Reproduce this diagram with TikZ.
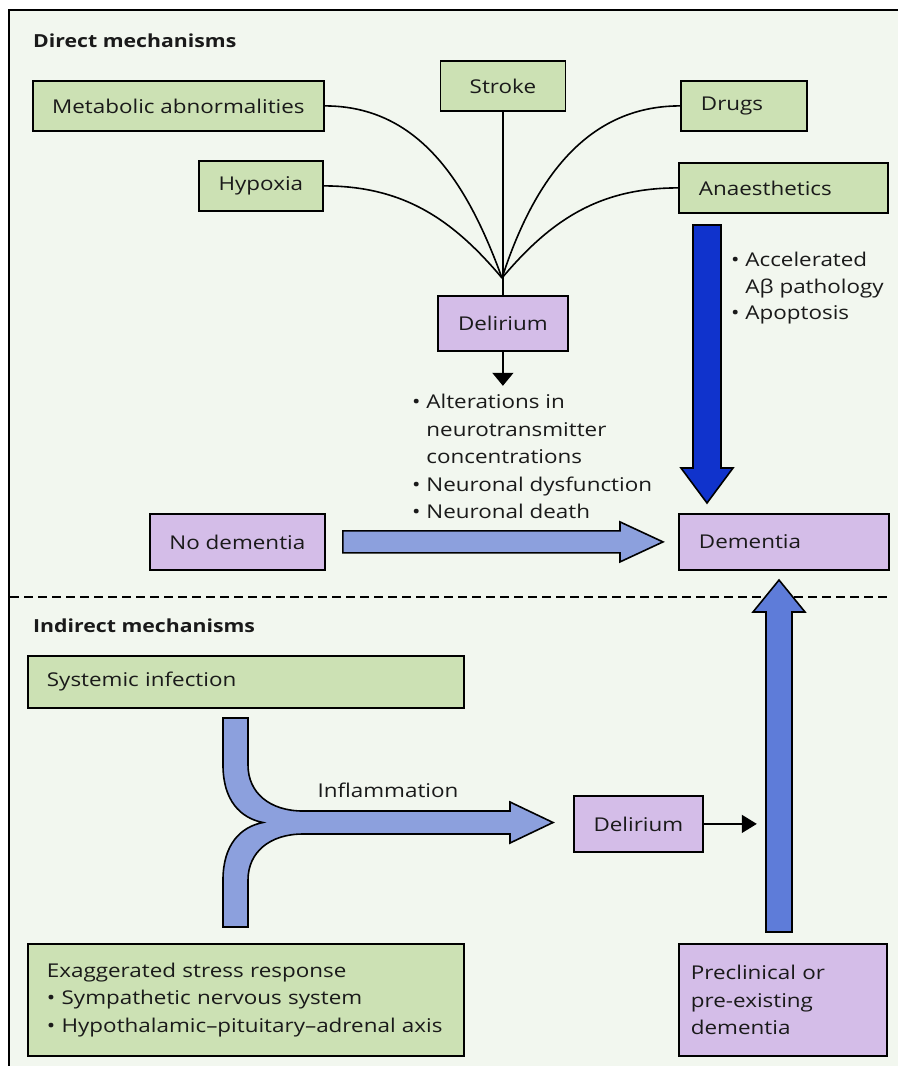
\documentclass[tikz,border=0pt]{standalone}
\usepackage{fontspec}
\setmainfont{Open Sans}[FakeStretch=1.18]
\usetikzlibrary{calc,arrows.meta}
\definecolor{bgc}{HTML}{F2F7EF}
\definecolor{gfill}{HTML}{CCE1B4}
\definecolor{pfill}{HTML}{D4BDE8}
\definecolor{lblue}{HTML}{8CA0DD}
\definecolor{mblue}{HTML}{5E7CD9}
\definecolor{dblue}{HTML}{1033CC}
\definecolor{txt}{HTML}{1A1A1A}
\newcommand\hblockarrow[6]{%
  \filldraw[fill=#6,draw=black,line width=1.6pt,line join=miter] let \p1=(#1),\p2=(#2) in
  (\x1,\y1+#3) -- (\x2-#5,\y1+#3) -- (\x2-#5,\y1+#4) -- (\x2,\y1) -- (\x2-#5,\y1-#4) -- (\x2-#5,\y1-#3) -- (\x1,\y1-#3) -- cycle;}
\newcommand\vblockarrow[7]{%
  \filldraw[fill=#6,draw=black,line width=1.6pt,line join=miter] let \p1=(#1),\p2=(#2) in
  (\x1-#3,\y1) -- (\x1-#3,\y2#7#5) -- (\x1-#4,\y2#7#5) -- (\x1,\y2) -- (\x1+#4,\y2#7#5) -- (\x1+#3,\y2#7#5) -- (\x1+#3,\y1) -- cycle;}
\begin{document}
\begin{tikzpicture}[x=1pt,y=-1pt,
  every node/.style={text=txt,font=\fontsize{19}{27.5}\selectfont},
  box/.style={draw=black,line width=1.8pt,anchor=north west,inner ysep=0pt,inner xsep=20pt},
  gbox/.style={box,fill=gfill},
  pbox/.style={box,fill=pfill},
  conn/.style={draw=black,line width=1.6pt},
  head/.style={font=\fontsize{18}{22}\selectfont\bfseries,anchor=west,inner sep=0pt},
  list/.style={align=left,anchor=north west,inner sep=0pt}]
\useasboundingbox (0,0) rectangle (898,1066);
\fill[white] (0,0) rectangle (898,1066);
\fill[bgc] (9,10) rectangle (898,1066);
\draw[line width=1.5pt] (9,1066) -- (9,10) -- (898,10);
% headings
\node[head] (hdirect) at (33,41) {Direct mechanisms};
\node[head] (hindirect) at (33,626) {Indirect mechanisms};
% top boxes
\node[gbox,minimum height=50pt,minimum width=291pt,align=center,inner xsep=4pt] (meta) at (32,80) {Metabolic abnormalities};
\node[gbox,minimum height=50pt,minimum width=124pt,align=center,inner xsep=4pt] (hyp) at (198,160) {Hypoxia};
\node[gbox,minimum height=50pt,minimum width=125pt,align=center,inner xsep=4pt] (stroke) at (439.5,60) {Stroke};
\node[gbox,minimum height=50pt,text width=86pt,align=left] (drugs) at (680,80) {Drugs};
\node[gbox,minimum height=50pt,text width=169pt,align=left] (anaes) at (678,162) {Anaesthetics};
\node[pbox,minimum height=55pt,minimum width=130pt,align=center,inner xsep=4pt] (del1) at (437,295) {Delirium};
\node[pbox,minimum height=56pt,minimum width=175pt,align=center,inner xsep=4pt] (nodem) at (149,513) {No dementia};
\node[pbox,minimum height=56pt,text width=170pt,align=left] (dem) at (678,513) {Dementia};
% fan connectors
\coordinate (conv) at (502,278);
\draw[conn] (meta.east) to[out=0,in=110] (conv);
\draw[conn] (hyp.east) to[out=0,in=130] (conv);
\draw[conn] (drugs.west) to[out=180,in=72] (conv);
\draw[conn] (anaes.west) to[out=180,in=50] (conv);
\draw[conn] (stroke.south) -- (del1.north);
% delirium to list
\coordinate (d1tip) at ($(del1.south)+(0,34)$);
\draw[conn,-{Triangle[width=21pt,length=13pt]}] (del1.south) -- (d1tip);
\node[list] (dlist) at (412,394) {\textbullet\ Alterations in\\\hphantom{\textbullet\ }neurotransmitter\\\hphantom{\textbullet\ }concentrations\\\textbullet\ Neuronal dysfunction\\\textbullet\ Neuronal death};
% dark blue arrow
\coordinate (dbs) at (707,225);
\coordinate (dbe) at (707,503);
\vblockarrow{dbs}{dbe}{14pt}{26pt}{35pt}{dblue}{+}
\node[list,font=\fontsize{19}{26.5}\selectfont] (alist) at (731,252) {\textbullet\ Accelerated\\\hphantom{\textbullet\ }Aβ pathology\\\textbullet\ Apoptosis};
% no dementia arrow
\coordinate (nas) at ($(nodem.east)+(17,0)$);
\coordinate (nae) at ($(dem.west)+(-15,0)$);
\hblockarrow{nas}{nae}{11pt}{20pt}{43pt}{lblue}
% divider
\draw[line width=2.5pt,dash pattern=on 9pt off 5pt] (10,597) -- (888,597);
% lower boxes
\node[gbox,minimum height=52pt,text width=398pt,align=left,inner xsep=19pt] (sys) at (27,655) {Systemic infection};
\node[gbox,minimum height=112pt,text width=398pt,align=left,inner xsep=19pt] (stress) at (27,943) {Exaggerated stress response\\\textbullet\ Sympathetic nervous system\\\textbullet\ Hypothalamic–pituitary–adrenal axis};
\node[pbox,minimum height=56pt,minimum width=129pt,align=center,inner xsep=4pt] (del2) at (573,795) {Delirium};
\node[pbox,minimum height=112pt,text width=184pt,align=left,inner xsep=12pt] (precl) at (678,943) {Preclinical or\\pre-existing\\dementia};
% Y arrow
\filldraw[fill=lblue,draw=black,line width=1.6pt,line join=miter]
  (223,718) -- (223,765) .. controls (223,800) and (240,818) .. (263,822.5)
  .. controls (240,827) and (223,845) .. (223,880) -- (223,927) -- (248,927) -- (248,880)
  .. controls (248,852) and (270,834) .. (303,834) -- (510,834) -- (510,843) -- (553,822.5)
  -- (510,802) -- (510,811) -- (303,811) .. controls (270,811) and (248,793) .. (248,765) -- (248,718) -- cycle;
\node (infl) at (388,790) {Inflammation};
% small arrow
\coordinate (d2tip) at ($(del2.east)+(53,0)$);
\draw[conn,-{Triangle[width=18pt,length=15pt]}] (del2.east) -- (d2tip);
% up arrow
\coordinate (ups) at (779,932);
\coordinate (upe) at (779,580);
\vblockarrow{ups}{upe}{13pt}{26pt}{32pt}{mblue}{-}
\end{tikzpicture}
\end{document}
